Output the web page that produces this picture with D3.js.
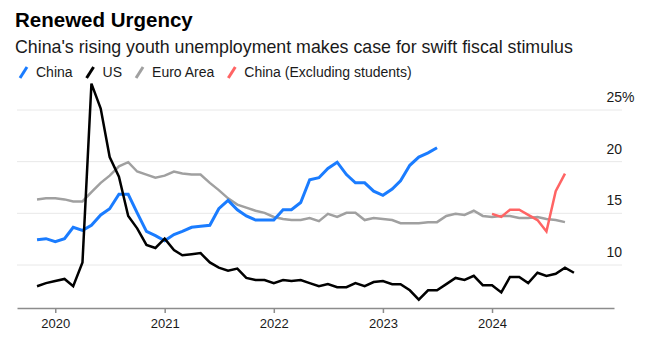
<!DOCTYPE html>
<html lang="en">
<head>
  <meta charset="UTF-8">
  <title>Renewed Urgency</title>
  <script src="https://d3js.org/d3.v7.min.js"></script>
  <style>
    body {
      margin: 0;
      background: #fff;
      font-family: "Liberation Sans", Arial, sans-serif;
    }
    .title {
      font-size: 20.5px;
      font-weight: bold;
      fill: #000;
    }
    .subtitle {
      font-size: 17.8px;
      fill: #1a1a1a;
    }
    .legend text {
      font-size: 14px;
      fill: #1a1a1a;
    }
    .grid line {
      stroke: #e8e8e8;
    }
    .grid text {
      font-size: 14px;
      fill: #1a1a1a;
    }
    .x-axis path,
    .x-axis line {
      stroke: #8c8c8c;
      stroke-width: 1.5;
    }
    .x-axis text {
      font-size: 13px;
      fill: #1a1a1a;
    }
    .series {
      fill: none;
      stroke-linejoin: miter;
    }
  </style>
</head>
<body>
  <div id="chart"></div>

  <script>
    // monthly youth unemployment rates (%), first value = start month
    const seriesStart = "2019-10";
    const china = [12.4, 12.5, 12.2, 12.5, 13.6, 13.3, 13.8, 14.8, 15.4, 16.8,
                   16.8, 15.0, 13.2, 12.8, 12.3, 12.9, 13.2, 13.6, 13.7, 13.8,
                   15.4, 16.2, 15.3, 14.7, 14.3, 14.3, 14.3, 15.3, 15.3, 16.0,
                   18.2, 18.4, 19.3, 19.9, 18.7, 17.9, 17.9, 17.1, 16.7, 17.3,
                   18.1, 19.6, 20.4, 20.8, 21.3];
    const us = [7.9, 8.2, 8.4, 8.6, 7.9, 10.2, 27.5, 25.1, 20.4, 18.5,
                14.7, 13.5, 11.9, 11.6, 12.5, 11.4, 10.9, 11.0, 11.1, 10.2,
                9.7, 9.4, 9.6, 8.7, 8.5, 8.5, 8.2, 8.5, 8.4, 8.5,
                8.2, 7.9, 8.1, 7.8, 7.8, 8.2, 7.9, 8.3, 8.4, 8.1,
                8.1, 7.5, 6.6, 7.5, 7.5, 8.1, 8.7, 8.5, 8.9, 8.0,
                8.0, 7.3, 8.8, 8.8, 8.2, 9.2, 8.9, 9.1, 9.7, 9.2];
    const euroArea = [16.3, 16.4, 16.4, 16.3, 16.1, 16.1, 17.0, 17.9, 18.6, 19.5,
                      19.9, 19.0, 18.7, 18.4, 18.6, 19.0, 18.8, 18.7, 18.7, 17.9,
                      17.2, 16.4, 15.8, 15.5, 15.2, 15.0, 14.6, 14.4, 14.3, 14.3,
                      14.5, 14.2, 14.9, 14.6, 15.0, 15.0, 14.3, 14.5, 14.4, 14.3,
                      14.0, 14.0, 14.0, 14.1, 14.1, 14.7, 14.9, 14.8, 15.2, 14.7,
                      14.6, 14.7, 14.7, 14.5, 14.5, 14.6, 14.4, 14.3, 14.1];
    const exStudentsStart = "2023-12";
    const chinaExStudents = [14.9, 14.6, 15.3, 15.3, 14.8, 14.3, 13.2, 17.1, 18.8];

    const yTicks = [10, 15, 20, 25];
    const xTicks = ["2020", "2021", "2022", "2023", "2024"];

    const width = 652, height = 346;

    const svg = d3.select("#chart")
                  .append("svg")
                  .attr("width", width)
                  .attr("height", height);

    const parseMonth = d3.timeParse("%Y-%m");
    const parseYear = d3.timeParse("%Y");

    // each reading is plotted at the end of its month
    function toPoints(start, values) {
      const s = parseMonth(start);
      return values.map((v, i) => ({ date: d3.timeMonth.offset(s, i + 1), value: v }));
    }

    const x = d3.scaleTime()
                .domain([new Date(2019, 7, 26), new Date(2025, 1, 12)])
                .range([17, 614]);

    const y = d3.scaleLinear()
                .domain([10, 25])
                .range([264.5, 109.5]);

    // Titles
    svg.append("text").attr("class", "title")
       .attr("x", 15).attr("y", 27)
       .text("Renewed Urgency");
    svg.append("text").attr("class", "subtitle")
       .attr("x", 15).attr("y", 53)
       .text("China's rising youth unemployment makes case for swift fiscal stimulus");

    // Gridlines + right-side labels
    const grid = svg.append("g")
       .attr("class", "grid")
       .attr("transform", "translate(622,0)")
       .call(d3.axisLeft(y).tickValues(yTicks).tickSize(605).tickFormat(d => d));
    grid.select(".domain").remove();
    grid.selectAll("text")
        .attr("x", 0)
        .attr("dy", -8)
        .attr("text-anchor", "end");
    grid.selectAll(".tick")
        .filter(d => d === 25)
        .append("text")
        .attr("x", 0)
        .attr("dy", -8)
        .attr("text-anchor", "start")
        .attr("fill", "#1a1a1a")
        .text("%");

    // X axis
    svg.append("g")
       .attr("class", "x-axis")
       .attr("transform", "translate(0,308)")
       .call(d3.axisBottom(x)
               .tickValues(xTicks.map(parseYear))
               .tickFormat(d3.timeFormat("%Y"))
               .tickSize(5)
               .tickSizeOuter(0)
               .tickPadding(6));

    // Lines
    const line = d3.line()
                   .x(d => x(d.date))
                   .y(d => y(d.value));

    const series = [
      { name: "Euro Area", color: "#a0a0a0", width: 2.5, data: toPoints(seriesStart, euroArea) },
      { name: "China (Excluding students)", color: "#ff6464", width: 2.5, data: toPoints(exStudentsStart, chinaExStudents) },
      { name: "China", color: "#1a7cff", width: 3, data: toPoints(seriesStart, china) },
      { name: "US", color: "#000", width: 2.5, data: toPoints(seriesStart, us) }
    ];

    svg.selectAll(".series")
       .data(series)
       .enter()
       .append("path")
       .attr("class", "series")
       .attr("stroke", d => d.color)
       .attr("stroke-width", d => d.width)
       .attr("d", d => line(d.data));

    // Legend
    const legendOrder = ["China", "US", "Euro Area", "China (Excluding students)"];
    const legend = svg.append("g").attr("class", "legend");
    let lx = 20;
    legendOrder.forEach(name => {
      const s = series.find(d => d.name === name);
      legend.append("line")
            .attr("x1", lx).attr("y1", 78)
            .attr("x2", lx + 7).attr("y2", 67)
            .attr("stroke", s.color)
            .attr("stroke-width", 3);
      const t = legend.append("text")
            .attr("x", lx + 16).attr("y", 77)
            .text(name);
      lx += 16 + t.node().getComputedTextLength() + 14;
    });
  </script>
</body>
</html>
